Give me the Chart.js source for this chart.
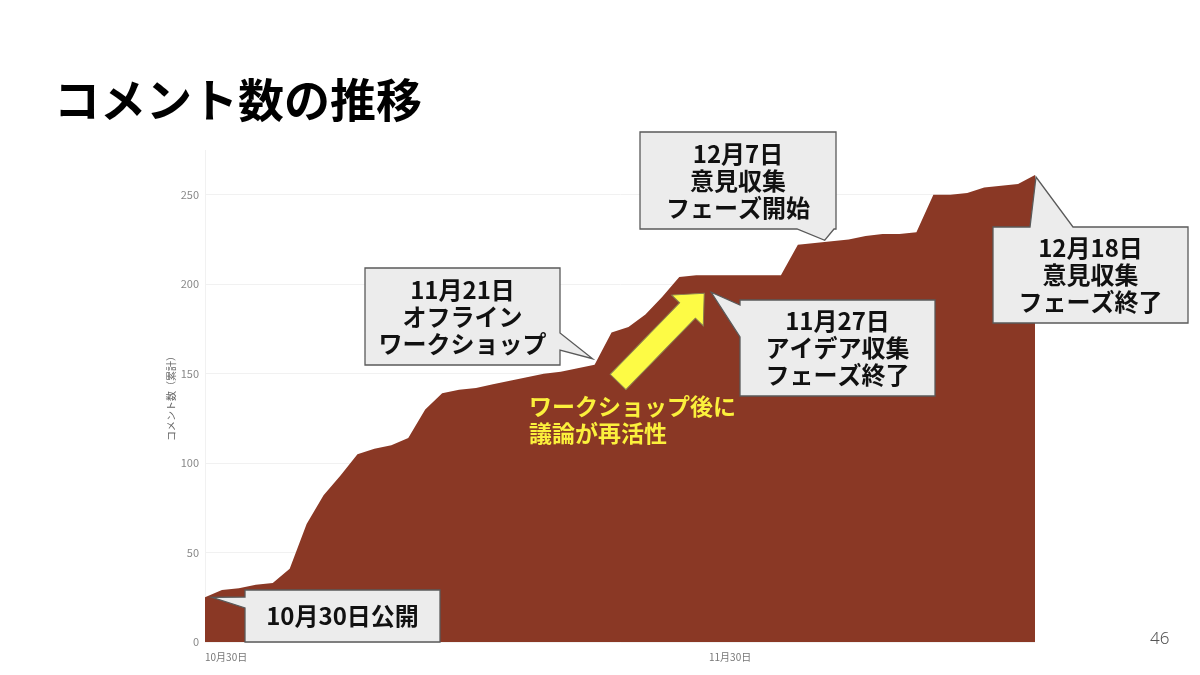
<!DOCTYPE html>
<html lang="ja">
<head>
<meta charset="utf-8">
<title>コメント数の推移</title>
<script src="https://cdn.jsdelivr.net/npm/chart.js@4.4.1/dist/chart.umd.min.js"></script>
<style>
  html, body { margin: 0; padding: 0; background: #fff; }
  #wrap { position: relative; width: 1200px; height: 675px; overflow: hidden; }
  h1 { position: absolute; left: 54px; top: 64px; margin: 0; font: 700 46px 'Noto Sans CJK JP', sans-serif; color: #000; letter-spacing: 0; }
  .page { position: absolute; left: 1150px; top: 626px; font: 300 17px 'Noto Sans', sans-serif; color: #555; }
  #box { position: absolute; left: 0; top: 0; width: 1200px; height: 675px; }
</style>
</head>
<body>
<div id="wrap">
  <div id="box"><canvas id="myChart" width="1200" height="675"></canvas></div>
  <h1>コメント数の推移</h1>
  <div class="page">46</div>
</div>
<script>
// daily dates, 10/30 to 12/18
const days = [
  '10月30日','10月31日','11月1日','11月2日','11月3日','11月4日','11月5日','11月6日','11月7日','11月8日',
  '11月9日','11月10日','11月11日','11月12日','11月13日','11月14日','11月15日','11月16日','11月17日','11月18日',
  '11月19日','11月20日','11月21日','11月22日','11月23日','11月24日','11月25日','11月26日','11月27日','11月28日',
  '11月29日','11月30日','12月1日','12月2日','12月3日','12月4日','12月5日','12月6日','12月7日','12月8日',
  '12月9日','12月10日','12月11日','12月12日','12月13日','12月14日','12月15日','12月16日','12月17日','12月18日'
]
// cumulative comment count
const counts = [
  25, 29, 30, 32, 33, 41, 66, 82, 93, 105,
  108, 110, 114, 130, 139, 141, 142, 144, 146, 148,
  150, 151, 153, 155, 173, 176, 183, 193, 204, 205,
  205, 205, 205, 205, 205, 222, 223, 224, 225, 227,
  228, 228, 229, 250, 250, 251, 254, 255, 256, 261
]
const tickLabels = ['10月30日', '11月30日']
const yTicks = [0, 50, 100, 150, 200, 250]

// callouts: text lines, box, which side the tail leaves from, and the day it points at
const notes = [
  { lines: ['10月30日公開'], day: 0, box: [245, 590, 195, 52], side: 'left', base: [597, 608], off: [7, 0] },
  { lines: ['11月21日', 'オフライン', 'ワークショップ'], day: 23, box: [365, 268, 195, 97], side: 'right', base: [333, 350], off: [-2, -6] },
  { lines: ['11月27日', 'アイデア収集', 'フェーズ終了'], day: 30, box: [740, 300, 195, 96], side: 'left', base: [305, 337], off: [-2, 17] },
  { lines: ['12月7日', '意見収集', 'フェーズ開始'], day: 37, box: [640, 132, 196, 97], side: 'bottom', base: [797, 834], off: [-7, -1] },
  { lines: ['12月18日', '意見収集', 'フェーズ終了'], day: 49, box: [993, 227, 195, 96], side: 'top', base: [1030, 1073], off: [1, 2] }
]
const noteText = ['ワークショップ後に', '議論が再活性']

const calloutPath = (ctx, x, y, w, h, side, a, b, tx, ty) => {
  ctx.beginPath()
  ctx.moveTo(x, y)
  if (side === 'top') { ctx.lineTo(a, y); ctx.lineTo(tx, ty); ctx.lineTo(b, y) }
  ctx.lineTo(x + w, y)
  if (side === 'right') { ctx.lineTo(x + w, a); ctx.lineTo(tx, ty); ctx.lineTo(x + w, b) }
  ctx.lineTo(x + w, y + h)
  if (side === 'bottom') { ctx.lineTo(b, y + h); ctx.lineTo(tx, ty); ctx.lineTo(a, y + h) }
  ctx.lineTo(x, y + h)
  if (side === 'left') { ctx.lineTo(x, b); ctx.lineTo(tx, ty); ctx.lineTo(x, a) }
  ctx.closePath()
}

const notesPlugin = {
  id: 'notes',
  afterDatasetsDraw(chart) {
    const { ctx, scales } = chart
    ctx.save()

    // yellow arrow toward the 11/27 peak
    const tip = { x: scales.x.getPixelForValue(29) + 8, y: scales.y.getPixelForValue(counts[29]) + 18 }
    const tail = { x: 618, y: 382 }
    const ang = Math.atan2(tip.y - tail.y, tip.x - tail.x)
    const len = Math.hypot(tip.x - tail.x, tip.y - tail.y)
    ctx.save()
    ctx.translate(tail.x, tail.y)
    ctx.rotate(ang)
    ctx.beginPath()
    ctx.moveTo(0, -11)
    ctx.lineTo(len - 24, -11)
    ctx.lineTo(len - 24, -22)
    ctx.lineTo(len, 0)
    ctx.lineTo(len - 24, 22)
    ctx.lineTo(len - 24, 11)
    ctx.lineTo(0, 11)
    ctx.closePath()
    ctx.fillStyle = '#fdfb45'
    ctx.fill()
    ctx.strokeStyle = '#8a7f50'
    ctx.lineWidth = 1
    ctx.stroke()
    ctx.restore()

    ctx.font = "700 23px 'Noto Sans CJK JP'"
    ctx.fillStyle = '#fbf03c'
    ctx.textAlign = 'left'
    ctx.textBaseline = 'middle'
    ctx.fillText(noteText[0], 529, 406)
    ctx.fillText(noteText[1], 529, 433)

    notes.forEach(n => {
      const [x, y, w, h] = n.box
      const tx = scales.x.getPixelForValue(n.day) + n.off[0]
      const ty = scales.y.getPixelForValue(counts[n.day]) + n.off[1]
      calloutPath(ctx, x, y, w, h, n.side, n.base[0], n.base[1], tx, ty)
      ctx.fillStyle = '#ececec'
      ctx.fill()
      ctx.strokeStyle = '#5a5a5a'
      ctx.lineWidth = 1.3
      ctx.stroke()
      ctx.fillStyle = '#111'
      ctx.font = "700 24px 'Noto Sans CJK JP'"
      ctx.textAlign = 'center'
      const lh = 27
      const top = y + h / 2 - (n.lines.length - 1) * lh / 2
      n.lines.forEach((t, i) => ctx.fillText(t, x + w / 2, top + i * lh))
    })
    ctx.restore()
  }
}

Chart.defaults.font.family = "'Noto Sans CJK JP', 'Noto Sans', sans-serif"

const ctx = document.getElementById('myChart')
new Chart(ctx, {
  type: 'line',
  data: {
    labels: days,
    datasets: [{
      label: 'コメント数（累計）',
      data: counts,
      fill: 'origin',
      backgroundColor: '#8a3825',
      borderColor: '#8a3825',
      borderWidth: 0,
      pointRadius: 0,
      tension: 0
    }]
  },
  options: {
    responsive: false,
    animation: false,
    devicePixelRatio: 1,
    layout: { padding: { left: 165, right: 165, top: 150, bottom: 6 } },
    plugins: { legend: { display: false }, tooltip: { enabled: false } },
    scales: {
      x: {
        offset: false,
        grid: { display: false },
        border: { display: false },
        afterFit: s => { s.height = 27 },
        ticks: {
          autoSkip: false,
          maxRotation: 0,
          align: 'inner',
          color: '#777',
          font: { size: 10 },
          padding: 1,
          callback: function (v) {
            const l = this.getLabelForValue(v)
            return tickLabels.includes(l) ? l : ''
          }
        }
      },
      y: {
        min: 0,
        max: 275,
        afterBuildTicks: s => { s.ticks = yTicks.map(v => ({ value: v })) },
        afterFit: s => { s.width = 40 },
        grid: { color: '#f1f1f1', drawTicks: false },
        border: { color: '#f1f1f1' },
        ticks: { color: '#888', font: { size: 11 }, padding: 6 },
        title: { display: true, text: 'コメント数（累計）', color: '#666', font: { size: 10 }, padding: 0 }
      }
    }
  },
  plugins: [notesPlugin]
})
</script>
</body>
</html>
